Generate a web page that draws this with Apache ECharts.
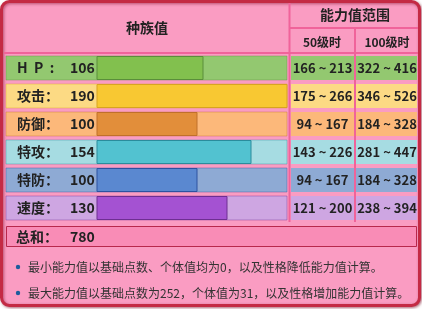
<!DOCTYPE html>
<html>
<head>
    <meta charset="utf-8">
    <title>种族值</title>
    <script src="https://cdn.jsdelivr.net/npm/echarts@6/dist/echarts.min.js"></script>
    <style>
        html, body { margin: 0; padding: 0; background: #fff; }
        #main { width: 422px; height: 309px; }
    </style>
</head>
<body>
<div id="main"></div>
<script type="text/javascript">
    // 数据
    var statNames = ['H  P  :', '攻击：', '防御：', '特攻：', '特防：', '速度：'];
    var baseStats = [106, 190, 100, 154, 100, 130];
    var range50 = ['166 ~ 213', '175 ~ 266', '94 ~ 167', '143 ~ 226', '94 ~ 167', '121 ~ 200'];
    var range100 = ['322 ~ 416', '346 ~ 526', '184 ~ 328', '281 ~ 447', '184 ~ 328', '238 ~ 394'];
    var totalLabel = '总和：';
    var totalValue = 780;
    var notes = [
        '最小能力值以基础点数、个体值均为0，以及性格降低能力值计算。',
        '最大能力值以基础点数为252，个体值为31，以及性格增加能力值计算。'
    ];

    // 每行颜色：浅色、条形色、边框
    var rowLight = ['#93c870', '#fcda84', '#fcb87a', '#a6dce2', '#8eaad4', '#cea6e2'];
    var barColor = ['#82c04e', '#f8c832', '#e28e3a', '#52c2d0', '#5a88d0', '#a452d2'];
    var barBorder = ['#5a8e3a', '#d8a420', '#c0702a', '#2a8c9c', '#2c52a0', '#6e2e92'];

    var FONT = '"Noto Sans CJK SC", "Noto Sans", sans-serif';
    var PINK = '#fa9cc2';
    var LINE = '#f0639a';

    var chart = echarts.init(document.getElementById('main'));

    var seriesData = baseStats.map(function (v, i) { return [v, i]; });

    function renderRow(params, api) {
        var i = api.value(1);
        var start = api.coord([0, i]);
        var end = api.coord([api.value(0), i]);
        var trackEnd = api.coord([190, i]);
        var band = api.size([0, 1])[1];
        var h = band - 4;
        var top = start[1] - h / 2;
        return {
            type: 'group',
            children: [
                { type: 'rect', shape: { x: 6, y: top, width: trackEnd[0] - 6, height: h },
                  style: { fill: rowLight[i], stroke: barBorder[i], lineWidth: 0.4 } },
                { type: 'rect', shape: { x: start[0], y: top + 0.5, width: end[0] - start[0], height: h - 1 },
                  style: { fill: barColor[i], stroke: barBorder[i], lineWidth: 1 } },
                { type: 'text', style: { x: 17, y: start[1], text: statNames[i], fill: '#222',
                  font: 'bold 14px ' + FONT, verticalAlign: 'middle' } },
                { type: 'text', style: { x: 70, y: start[1], text: String(api.value(0)), fill: '#222',
                  font: 'bold 14px ' + FONT, verticalAlign: 'middle' } },
                { type: 'rect', shape: { x: 291, y: top, width: 63, height: h }, style: { fill: rowLight[i] } },
                { type: 'rect', shape: { x: 356, y: top, width: 61, height: h }, style: { fill: rowLight[i] } },
                { type: 'text', style: { x: 322.5, y: start[1], text: range50[i], fill: '#222',
                  font: 'bold 13px ' + FONT, align: 'center', verticalAlign: 'middle' } },
                { type: 'text', style: { x: 387, y: start[1], text: range100[i], fill: '#222',
                  font: 'bold 13px ' + FONT, align: 'center', verticalAlign: 'middle' } }
            ]
        };
    }

    var graphics = [
        { type: 'rect', z: -10, shape: { x: 1.5, y: 1.5, width: 418, height: 304, r: 8 },
          style: { fill: PINK, stroke: '#c42a44', lineWidth: 3, shadowBlur: 3, shadowOffsetX: 1, shadowOffsetY: 1, shadowColor: 'rgba(120,0,30,0.5)' } },
        // 表头线
        { type: 'line', z: -5, shape: { x1: 4, y1: 53, x2: 418, y2: 53 }, style: { stroke: LINE, lineWidth: 2 } },
        { type: 'line', z: -5, shape: { x1: 290, y1: 28, x2: 418, y2: 28 }, style: { stroke: LINE, lineWidth: 2 } },
        { type: 'line', z: -5, shape: { x1: 289.5, y1: 3, x2: 289.5, y2: 222 }, style: { stroke: LINE, lineWidth: 2 } },
        { type: 'line', z: -5, shape: { x1: 355, y1: 28, x2: 355, y2: 222 }, style: { stroke: LINE, lineWidth: 2 } },
        { type: 'text', style: { x: 147, y: 28, text: '种族值', fill: '#222', font: 'bold 14px ' + FONT, align: 'center', verticalAlign: 'middle' } },
        { type: 'text', style: { x: 355, y: 15, text: '能力值范围', fill: '#222', font: 'bold 14px ' + FONT, align: 'center', verticalAlign: 'middle' } },
        { type: 'text', style: { x: 322, y: 42, text: '50级时', fill: '#222', font: 'bold 12px ' + FONT, align: 'center', verticalAlign: 'middle' } },
        { type: 'text', style: { x: 387, y: 42, text: '100级时', fill: '#222', font: 'bold 12px ' + FONT, align: 'center', verticalAlign: 'middle' } },
        // 总和
        { type: 'rect', shape: { x: 6.5, y: 226.5, width: 410, height: 20 }, style: { fill: '#f98cb6', stroke: '#b8284c', lineWidth: 1 } },
        { type: 'text', style: { x: 16, y: 237, text: totalLabel, fill: '#222', font: 'bold 14px ' + FONT, verticalAlign: 'middle' } },
        { type: 'text', style: { x: 70, y: 237, text: String(totalValue), fill: '#222', font: 'bold 14px ' + FONT, verticalAlign: 'middle' } }
    ];
    notes.forEach(function (t, k) {
        var y = 267 + k * 26;
        graphics.push({ type: 'circle', shape: { cx: 18, cy: y, r: 2.2 }, style: { fill: '#1d5c9c' } });
        graphics.push({ type: 'text', style: { x: 28, y: y, text: t, fill: '#333', font: '12px ' + FONT, verticalAlign: 'middle' } });
    });

    chart.setOption({
        animation: false,
        graphic: graphics,
        grid: { left: 97, top: 54, width: 190, height: 168 },
        xAxis: { type: 'value', min: 0, max: 190, show: false },
        yAxis: { type: 'category', inverse: true, data: statNames, show: false },
        series: [{
            type: 'custom',
            renderItem: renderRow,
            encode: { x: 0, y: 1 },
            data: seriesData
        }]
    });
</script>
</body>
</html>
